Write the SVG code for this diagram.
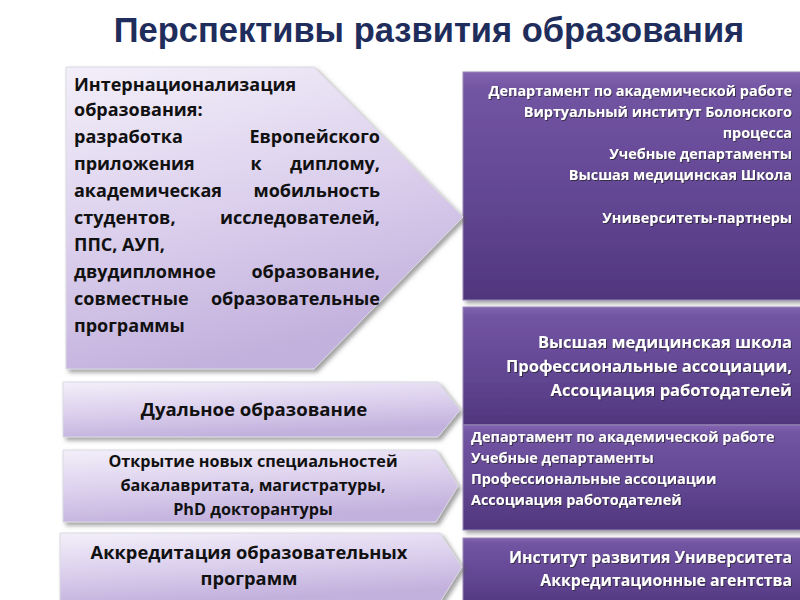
<svg xmlns="http://www.w3.org/2000/svg" width="800" height="600" viewBox="0 0 800 600">
<defs>
<linearGradient id="lav" x1="0" y1="0" x2="0.3" y2="1">
<stop offset="0" stop-color="#f3eff9"/>
<stop offset="0.5" stop-color="#ddd2ee"/>
<stop offset="1" stop-color="#c3b1dd"/>
</linearGradient>
<linearGradient id="pur" x1="0" y1="0" x2="0" y2="1">
<stop offset="0" stop-color="#8264b0"/>
<stop offset="0.08" stop-color="#7154a2"/>
<stop offset="0.6" stop-color="#614592"/>
<stop offset="1" stop-color="#50367c"/>
</linearGradient>
<filter id="sh" x="-10%" y="-10%" width="130%" height="130%">
<feDropShadow dx="3" dy="3" stdDeviation="2" flood-color="#555" flood-opacity="0.55"/>
</filter>
<filter id="tsh" x="-5%" y="-20%" width="110%" height="150%">
<feDropShadow dx="1" dy="1" stdDeviation="0.6" flood-color="#222" flood-opacity="0.7"/>
</filter>
</defs>
<style>
.title{font-family:"Liberation Sans",Arial,sans-serif;font-weight:bold;font-size:34.5px;fill:#1f2d5c}
.arrow{fill:url(#lav);stroke:#d9d9e2;stroke-width:1;filter:url(#sh)}
.box{fill:url(#pur);stroke:#9a88b8;stroke-width:1;filter:url(#sh)}
.lt{font-family:"Open Sans","Liberation Sans",sans-serif;font-weight:bold;fill:#111;font-size:18px}
.lc{font-family:"Open Sans","Liberation Sans",sans-serif;font-weight:bold;fill:#111;text-anchor:middle}
.wt{font-family:"Open Sans","Liberation Sans",sans-serif;font-weight:bold;fill:#fff;filter:url(#tsh)}
.r{text-anchor:end}
</style>
<rect width="800" height="600" fill="#ffffff"/>
<text class="title" x="429" y="42" text-anchor="middle">Перспективы развития образования</text>

<g id="box1">
<rect class="box" x="463" y="72" width="340" height="228"/>
<g class="wt r" font-size="14.4">
<text x="792" y="96">Департамент по академической работе</text>
<text x="792" y="117">Виртуальный институт Болонского</text>
<text x="792" y="138">процесса</text>
<text x="792" y="159">Учебные департаменты</text>
<text x="792" y="180">Высшая медицинская Школа</text>
<text x="792" y="223">Университеты-партнеры</text>
</g>
</g>
<g id="box2">
<rect class="box" x="463" y="307" width="340" height="118"/>
<g class="wt r" font-size="16.5">
<text x="792" y="348">Высшая медицинская школа</text>
<text x="792" y="372">Профессиональные ассоциации,</text>
<text x="792" y="396">Ассоциация работодателей</text>
</g>
</g>
<g id="box3">
<rect class="box" x="463" y="425" width="340" height="105"/>
<g class="wt" font-size="14.4">
<text x="471" y="442">Департамент по академической работе</text>
<text x="471" y="463">Учебные департаменты</text>
<text x="471" y="484">Профессиональные ассоциации</text>
<text x="471" y="505">Ассоциация работодателей</text>
</g>
</g>
<g id="box4">
<rect class="box" x="463" y="538" width="340" height="70"/>
<g class="wt r" font-size="15.8">
<text x="792" y="563">Институт развития Университета</text>
<text x="792" y="586">Аккредитационные агентства</text>
</g>
</g>

<g id="arrow1">
<polygon class="arrow" points="66,67 314,67 463,217 314,369 66,369"/>
<g class="lt">
<text x="74" y="91">Интернационализация</text>
<text x="74" y="116">образования:</text>
<text x="74" y="143">разработка</text>
<text x="380" y="143" text-anchor="end">Европейского</text>
<text x="74" y="170">приложения</text>
<text x="256" y="170" text-anchor="middle">к</text>
<text x="380" y="170" text-anchor="end">диплому,</text>
<text x="74" y="197">академическая</text>
<text x="380" y="197" text-anchor="end">мобильность</text>
<text x="74" y="224">студентов,</text>
<text x="380" y="224" text-anchor="end">исследователей,</text>
<text x="74" y="251">ППС, АУП,</text>
<text x="74" y="278">двудипломное</text>
<text x="380" y="278" text-anchor="end">образование,</text>
<text x="74" y="305">совместные</text>
<text x="380" y="305" text-anchor="end">образовательные</text>
<text x="74" y="332">программы</text>
</g>
</g>

<g id="arrow2">
<polygon class="arrow" points="63,382 438,382 460,410 438,437 63,437"/>
<text class="lc" x="254" y="416" font-size="18.6">Дуальное образование</text>
</g>
<g id="arrow3">
<polygon class="arrow" points="63,450 436,450 458,486 436,522 63,522"/>
<g class="lc" font-size="16.2">
<text x="253" y="467">Открытие новых специальностей</text>
<text x="253" y="491">бакалавритата, магистратуры,</text>
<text x="253" y="515">PhD докторантуры</text>
</g>
</g>
<g id="arrow4">
<polygon class="arrow" points="60,533 440,533 462,567 440,602 60,602"/>
<g class="lc" font-size="18.3">
<text x="249" y="559">Аккредитация образовательных</text>
<text x="249" y="585">программ</text>
</g>
</g>
<g id="connectors"/>
</svg>
